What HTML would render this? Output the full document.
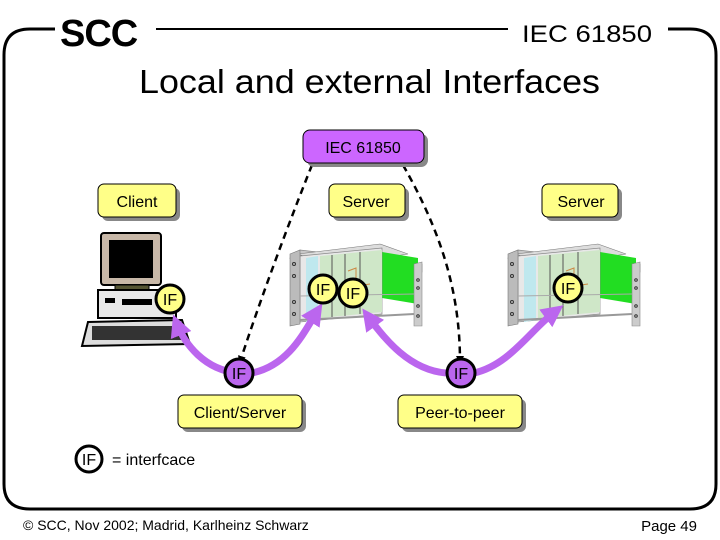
<!DOCTYPE html>
<html><head><meta charset="utf-8"><style>
body{margin:0;background:#fff}
svg{display:block}
text{font-family:"Liberation Sans",Arial,sans-serif}
</style></head><body>
<svg width="720" height="540" viewBox="0 0 720 540" xmlns="http://www.w3.org/2000/svg">
<defs>
<marker id="ab" markerWidth="8" markerHeight="8" refX="6" refY="4" orient="auto" markerUnits="userSpaceOnUse"><path d="M0,0 L8,4 L0,8 z" fill="#000"/></marker>
<marker id="ap" markerWidth="22" markerHeight="22" refX="14" refY="11" orient="auto" markerUnits="userSpaceOnUse"><path d="M0,0 L22,11 L0,22 z" fill="#bb66ee"/></marker>
<g id="rack">
 <polygon points="0,22 10,14 132,28 132,36 10,24" fill="#c8c8c8" stroke="#888" stroke-width="0.7"/>
 <polygon points="8,18 90,8 118,18 40,30" fill="#ddd" stroke="#777" stroke-width="0.6"/>
 <polygon points="92,16 128,22 128,68 92,62" fill="#22dd22"/>
 <polygon points="10,20 92,12 92,78 10,86" fill="#e8e8e8" stroke="#888" stroke-width="0.7"/>
 <polygon points="16,22 28,20 28,84 16,86" fill="#bfe8ee"/>
 <polygon points="30,20 92,14 92,76 30,82" fill="#cfe7c8"/>
 <line x1="42" y1="19" x2="42" y2="81" stroke="#555"/><line x1="55" y1="18" x2="55" y2="80" stroke="#555"/><line x1="70" y1="16" x2="70" y2="78" stroke="#555"/>
 <polyline points="58,35 66,32 66,50 80,48" fill="none" stroke="#c84" />
 <polygon points="0,18 10,14 10,88 0,90" fill="#bbb" stroke="#777" stroke-width="0.6"/>
 <circle cx="4" cy="28" r="1.5" fill="none" stroke="#333"/><circle cx="4" cy="40" r="1.5" fill="none" stroke="#333"/><circle cx="4" cy="66" r="1.5" fill="none" stroke="#333"/><circle cx="4" cy="78" r="1.5" fill="none" stroke="#333"/>
 <polygon points="124,28 132,26 132,90 124,90" fill="#ccc" stroke="#888" stroke-width="0.6"/>
 <circle cx="128" cy="44" r="1.3" fill="none" stroke="#333"/><circle cx="128" cy="52" r="1.3" fill="none" stroke="#333"/><circle cx="128" cy="70" r="1.3" fill="none" stroke="#333"/><circle cx="128" cy="80" r="1.3" fill="none" stroke="#333"/>
 <line x1="10" y1="84" x2="124" y2="78" stroke="#999" stroke-width="2"/>
 <line x1="10" y1="60" x2="124" y2="58" stroke="#aaa" stroke-width="1"/>
</g>
</defs>

<!-- frame -->
<path d="M55,29 L30,29 Q4,29 4,55 L4,484 Q4,509 30,509 L690,509 Q716,509 716,484 L716,55 Q716,29 690,29 L668,29" fill="none" stroke="#000" stroke-width="3"/>
<line x1="156" y1="29" x2="508" y2="29" stroke="#000" stroke-width="2"/>
<text x="60" y="46" font-size="38" font-weight="bold" font-family="DejaVu Sans,sans-serif" letter-spacing="-1">SCC</text>
<text x="522" y="42" font-size="24" textLength="130" lengthAdjust="spacingAndGlyphs">IEC 61850</text>
<text x="139" y="93" font-size="33" textLength="461" lengthAdjust="spacingAndGlyphs">Local and external Interfaces</text>

<!-- devices -->
<use href="#rack" x="290" y="236"/>
<use href="#rack" x="508" y="236"/>
<!-- computer -->
<rect x="101" y="233" width="60" height="52" rx="3" fill="#c8b8a8" stroke="#000" stroke-width="2"/>
<rect x="109" y="240" width="44" height="38" fill="#000"/>
<rect x="115" y="285" width="34" height="5" fill="#553" stroke="#000"/>
<rect x="98" y="290" width="78" height="28" fill="#e8e8e8" stroke="#000" stroke-width="2"/>
<rect x="105" y="298" width="10" height="5" fill="#000"/><rect x="122" y="299" width="30" height="6" fill="#000"/>
<polygon points="88,322 182,320 190,344 82,346" fill="#ddd" stroke="#000" stroke-width="2"/>
<rect x="92" y="326" width="90" height="14" fill="#333"/>

<!-- dashed -->
<path d="M312,165 C290,220 260,300 240,362" fill="none" stroke="#000" stroke-width="2.5" stroke-dasharray="7,5" marker-end="url(#ab)"/>
<path d="M403,165 C440,230 460,290 460,362" fill="none" stroke="#000" stroke-width="2.5" stroke-dasharray="7,5" marker-end="url(#ab)"/>

<!-- purple arrows -->
<path d="M238,373 C205,370 185,345 176,322" fill="none" stroke="#bb66ee" stroke-width="7" marker-end="url(#ap)"/>
<path d="M252,373 C290,365 305,330 318,310" fill="none" stroke="#bb66ee" stroke-width="7" marker-end="url(#ap)"/>
<path d="M446,373 C410,370 385,340 367,315" fill="none" stroke="#bb66ee" stroke-width="7" marker-end="url(#ap)"/>
<path d="M474,373 C510,365 530,330 557,310" fill="none" stroke="#bb66ee" stroke-width="7" marker-end="url(#ap)"/>

<!-- IF circles -->
<g font-size="16" text-anchor="middle">
<circle cx="170" cy="299" r="14" fill="#ffff88" stroke="#000" stroke-width="3"/><text x="170" y="305">IF</text>
<circle cx="323" cy="289" r="14" fill="#ffff88" stroke="#000" stroke-width="3"/><text x="323" y="295">IF</text>
<circle cx="353" cy="293" r="14" fill="#ffff88" stroke="#000" stroke-width="3"/><text x="353" y="299">IF</text>
<circle cx="568" cy="288" r="14" fill="#ffff88" stroke="#000" stroke-width="3"/><text x="568" y="294">IF</text>
<circle cx="239" cy="373" r="14" fill="#bb66ee" stroke="#000" stroke-width="3"/><text x="239" y="379">IF</text>
<circle cx="461" cy="373" r="14" fill="#bb66ee" stroke="#000" stroke-width="3"/><text x="461" y="379">IF</text>
<circle cx="89" cy="459" r="13" fill="#fff" stroke="#000" stroke-width="3"/><text x="89" y="465">IF</text>
</g>
<text x="112" y="465" font-size="16">= interfcace</text>

<!-- boxes -->
<g font-size="16" text-anchor="middle">
<rect x="307" y="134" width="121" height="33" rx="7" fill="#888"/>
<rect x="303" y="130" width="121" height="33" rx="7" fill="#cc66ff" stroke="#000"/>
<text x="363" y="153">IEC 61850</text>
<rect x="102" y="188" width="78" height="33" rx="6" fill="#888"/>
<rect x="98" y="184" width="78" height="33" rx="6" fill="#ffff88" stroke="#000"/>
<text x="137" y="207">Client</text>
<rect x="333" y="188" width="76" height="33" rx="6" fill="#888"/>
<rect x="329" y="184" width="76" height="33" rx="6" fill="#ffff88" stroke="#000"/>
<text x="366" y="207">Server</text>
<rect x="546" y="188" width="76" height="33" rx="6" fill="#888"/>
<rect x="542" y="184" width="76" height="33" rx="6" fill="#ffff88" stroke="#000"/>
<text x="581" y="207">Server</text>
<rect x="182" y="399" width="124" height="33" rx="6" fill="#888"/>
<rect x="178" y="395" width="124" height="33" rx="6" fill="#ffff88" stroke="#000"/>
<text x="240" y="418">Client/Server</text>
<rect x="402" y="399" width="124" height="33" rx="6" fill="#888"/>
<rect x="398" y="395" width="124" height="33" rx="6" fill="#ffff88" stroke="#000"/>
<text x="460" y="418">Peer-to-peer</text>
</g>

<text x="23" y="530" font-size="14">© SCC, Nov 2002; Madrid, Karlheinz Schwarz</text>
<text x="697" y="531" font-size="15" text-anchor="end">Page 49</text>
</svg>
</body></html>
